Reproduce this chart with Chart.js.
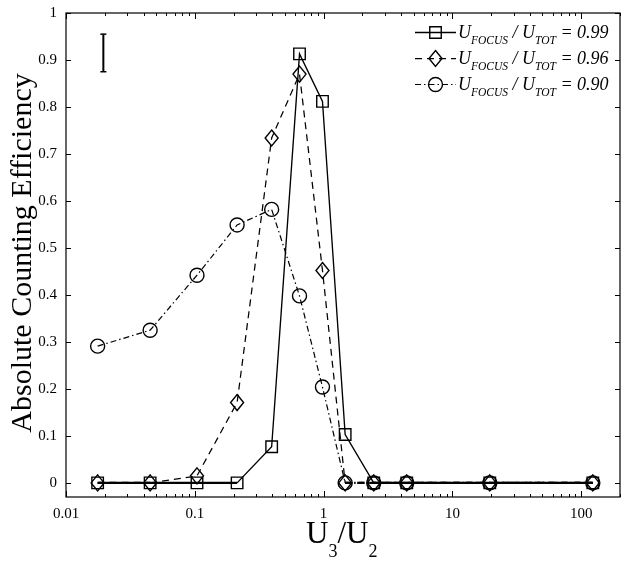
<!DOCTYPE html>
<html>
<head>
<meta charset="utf-8">
<script src="https://cdn.jsdelivr.net/npm/chart.js@4/dist/chart.umd.min.js"></script>
<style>
html,body{margin:0;padding:0;background:#fff;}
#wrap{width:629px;height:566px;position:relative;}
</style>
</head>
<body>
<div id="wrap"><canvas id="c" width="629" height="566"></canvas></div>
<script>
// ---- data ----
const ratios = [0.0176, 0.045, 0.104, 0.213, 0.395, 0.65, 0.98, 1.47, 2.45, 4.42, 19.5, 123];
const eff099 = [0, 0, 0, 0, 0.077, 0.913, 0.812, 0.103, 0, 0, 0, 0];
const eff096 = [0, 0, 0.015, 0.171, 0.734, 0.870, 0.452, 0, 0, 0, 0, 0];
const eff090 = [0.291, 0.325, 0.442, 0.549, 0.582, 0.398, 0.204, 0, 0, 0, 0, 0];
const seriesValues = ['0.99', '0.96', '0.90'];
const errX = [0.0195, 0.0195];
const errY = [0.955, 0.875];
const xTickLabels = [0.01, 0.1, 1, 10, 100];
const yTickLabels = [0, 0.1, 0.2, 0.3, 0.4, 0.5, 0.6, 0.7, 0.8, 0.9, 1];

const INK = '#000';
const SERIF = '"Liberation Serif", "Times New Roman", serif';

function drawMarker(ctx, kind, x, y) {
  ctx.save();
  ctx.strokeStyle = INK; ctx.lineWidth = 1.4; ctx.setLineDash([]);
  ctx.beginPath();
  if (kind === 'square') {
    ctx.rect(x - 5.75, y - 5.75, 11.5, 11.5);
  } else if (kind === 'diamond') {
    ctx.moveTo(x, y - 8); ctx.lineTo(x + 6.5, y); ctx.lineTo(x, y + 8); ctx.lineTo(x - 6.5, y); ctx.closePath();
  } else {
    ctx.arc(x, y, 7, 0, Math.PI * 2);
  }
  ctx.stroke();
  ctx.restore();
}

function pts(ys) { return ys.map((y, i) => ({ x: ratios[i], y: y })); }
const zeroSeg = { borderWidth: (c) => (c.p0.parsed.y === 0 && c.p1.parsed.y === 0) ? 2.4 : undefined };

const datasets = [
  { label: 'U_FOCUS / U_TOT = ' + seriesValues[2], data: pts(eff090), borderColor: INK, borderWidth: 1.2,
    borderDash: [6, 3, 1.5, 3], marker: 'circle', pointRadius: 0, fill: false, tension: 0, segment: zeroSeg },
  { label: 'U_FOCUS / U_TOT = ' + seriesValues[1], data: pts(eff096), borderColor: INK, borderWidth: 1.25,
    borderDash: [7, 5], marker: 'diamond', pointRadius: 0, fill: false, tension: 0, segment: zeroSeg },
  { label: 'U_FOCUS / U_TOT = ' + seriesValues[0], data: pts(eff099), borderColor: INK, borderWidth: 1.35,
    borderDash: [], marker: 'square', pointRadius: 0, fill: false, tension: 0, segment: zeroSeg },
  { label: 'error', data: errX.map((x, i) => ({ x: x, y: errY[i] })), borderColor: INK, borderWidth: 2,
    pointStyle: 'line', pointRadius: 3, pointBorderWidth: 1.5, pointBorderColor: INK, fill: false }
];

const legendOrder = [2, 1, 0];

const decor = {
  id: 'decor',
  afterDatasetsDraw(chart) {
    const ctx = chart.ctx;
    chart.data.datasets.forEach((ds, i) => {
      if (!ds.marker) return;
      chart.getDatasetMeta(i).data.forEach(el => drawMarker(ctx, ds.marker, el.x, el.y));
    });
  },
  afterDraw(chart) {
    const ctx = chart.ctx;
    const a = chart.chartArea;
    const xs = chart.scales.x, ys = chart.scales.y;
    ctx.save();
    ctx.strokeStyle = INK;
    ctx.lineWidth = 1.2;
    ctx.setLineDash([]);
    ctx.strokeRect(a.left, a.top, a.right - a.left, a.bottom - a.top);
    ctx.lineWidth = 1;
    ctx.beginPath();
    for (let e = -2; e <= 2; e++) {
      for (let m = 1; m <= 9; m++) {
        const v = m * Math.pow(10, e);
        if (v > xs.max) continue;
        const px = Math.round(xs.getPixelForValue(v)) + 0.5;
        const len = (m === 1) ? 6 : 3;
        ctx.moveTo(px, a.bottom); ctx.lineTo(px, a.bottom - len);
        ctx.moveTo(px, a.top); ctx.lineTo(px, a.top + len);
      }
    }
    yTickLabels.forEach(v => {
      const py = Math.round(ys.getPixelForValue(v)) + 0.5;
      ctx.moveTo(a.left, py); ctx.lineTo(a.left + 5, py);
      ctx.moveTo(a.right, py); ctx.lineTo(a.right - 5, py);
    });
    ctx.stroke();

    ctx.fillStyle = INK;
    ctx.save();
    ctx.translate(31, 253);
    ctx.rotate(-Math.PI / 2);
    ctx.font = '30px ' + SERIF;
    ctx.textAlign = 'center';
    ctx.textBaseline = 'alphabetic';
    ctx.fillText('Absolute Counting Efficiency', 0, 0);
    ctx.restore();

    ctx.textBaseline = 'alphabetic';
    ctx.textAlign = 'left';
    const big = '31px ' + SERIF, sub = '18px ' + SERIF;
    let x = 306, by = 543;
    const seg = (t, f, dy) => { ctx.font = f; ctx.fillText(t, x, by + dy); x += ctx.measureText(t).width; };
    seg('U', big, 0); seg('3', sub, 14); seg('/', big, 0); seg('U', big, 0); seg('2', sub, 14);

    const lbig = 'italic 18px ' + SERIF, lsub = 'italic 11.5px ' + SERIF;
    legendOrder.forEach((di, r) => {
      const ds = chart.data.datasets[di];
      const y = 32 + r * 26;
      ctx.strokeStyle = INK; ctx.lineWidth = ds.borderWidth;
      ctx.setLineDash(ds.borderDash);
      ctx.beginPath(); ctx.moveTo(415, y + 0.5); ctx.lineTo(456, y + 0.5); ctx.stroke();
      ctx.setLineDash([]);
      drawMarker(ctx, ds.marker, 435.5, y + 0.5);
      x = 458; by = y + 6;
      seg('U', lbig, 0); seg('FOCUS', lsub, 6); seg(' / U', lbig, 0); seg('TOT', lsub, 6);
      seg(' = ' + seriesValues[r], lbig, 0);
    });
    ctx.restore();
  }
};

new Chart(document.getElementById('c'), {
  type: 'line',
  data: { datasets: datasets },
  plugins: [decor],
  options: {
    responsive: false,
    animation: false,
    layout: { padding: { top: 13, right: 9, left: 0, bottom: 0 } },
    plugins: { legend: { display: false }, tooltip: { enabled: false } },
    scales: {
      x: {
        type: 'logarithmic', min: 0.01, max: 200,
        grid: { display: false, drawTicks: false },
        border: { display: false },
        afterBuildTicks(s) { s.ticks = xTickLabels.map(v => ({ value: v })); },
        afterFit(s) { s.height = 69; s.paddingLeft = 0; s.paddingRight = 0; },
        ticks: { padding: 8, color: INK, font: { family: SERIF, size: 15 }, maxRotation: 0, autoSkip: false,
          callback: (v) => String(v) }
      },
      y: {
        type: 'linear', min: -0.03, max: 1,
        grid: { display: false, drawTicks: false },
        border: { display: false },
        afterBuildTicks(s) { s.ticks = yTickLabels.map(v => ({ value: v })); },
        afterFit(s) { s.width = 66; s.paddingTop = 0; s.paddingBottom = 0; },
        ticks: { padding: 9, color: INK, font: { family: SERIF, size: 15 },
          callback: (v) => String(Math.round(v * 10) / 10) }
      }
    }
  }
});
</script>
</body>
</html>
